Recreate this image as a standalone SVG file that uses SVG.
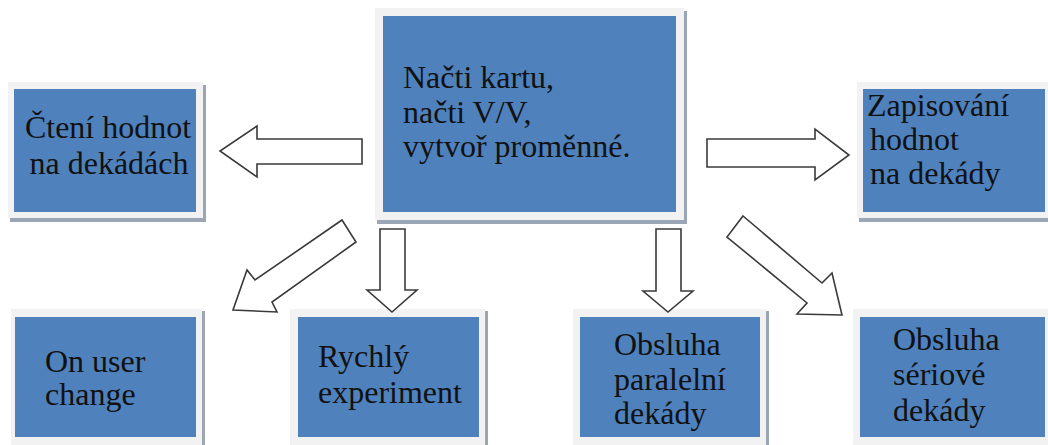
<svg xmlns="http://www.w3.org/2000/svg" width="1048" height="445" viewBox="0 0 1048 445">
  <defs>
    <style>
      .frame { fill: #f2f2f2; }
      .shadow { fill: #9aa5b5; }
      .box { fill: #4f81bd; }
      .lbl { font-family: 'Liberation Serif', 'Times New Roman', serif; font-size: 32px; fill: #111111; }
      .mid { text-anchor: middle; }
      .arrow { fill: #ffffff; stroke: #3a3a3a; stroke-width: 1.6; stroke-linejoin: miter; }
    </style>
  </defs>
  <rect width="1048" height="445" fill="#ffffff"/>

  <!-- centre node -->
  <g id="node-init">
    <rect class="shadow" x="377" y="11" width="310" height="213"/>
    <rect class="frame" x="375" y="8" width="309" height="212"/>
    <rect class="box" x="383" y="16" width="293" height="196"/>
    <text class="lbl" x="403" y="88">Načti kartu,</text>
    <text class="lbl" x="403" y="122.5">načti V/V,</text>
    <text class="lbl" x="403" y="157">vytvoř proměnné.</text>
  </g>

  <g id="node-read">
    <rect class="shadow" x="10" y="85" width="196" height="137"/>
    <rect class="frame" x="8" y="82" width="195" height="136"/>
    <rect class="box" x="14" y="89" width="182" height="123"/>
    <text class="lbl mid" x="108" y="138">Čtení hodnot</text>
    <text class="lbl mid" x="109" y="174">na dekádách</text>
  </g>

  <g id="node-write">
    <rect class="shadow" x="859" y="85" width="189" height="137"/>
    <rect class="frame" x="857" y="82" width="191" height="136"/>
    <rect class="box" x="863" y="89" width="182" height="123"/>
    <text class="lbl" x="867" y="116">Zapisování</text>
    <text class="lbl" x="870" y="150">hodnot</text>
    <text class="lbl" x="870" y="184">na dekády</text>
  </g>

  <g id="node-user">
    <rect class="shadow" x="13" y="311" width="192" height="134"/>
    <rect class="frame" x="11" y="309" width="191" height="136"/>
    <rect class="box" x="15" y="317" width="181" height="120"/>
    <text class="lbl" x="45" y="372">On user</text>
    <text class="lbl" x="45" y="405">change</text>
  </g>

  <g id="node-quick">
    <rect class="shadow" x="292" y="311" width="196" height="134"/>
    <rect class="frame" x="290" y="309" width="195" height="136"/>
    <rect class="box" x="298" y="317" width="181" height="120"/>
    <text class="lbl" x="318" y="367">Rychlý</text>
    <text class="lbl" x="318" y="403">experiment</text>
  </g>

  <g id="node-parallel">
    <rect class="shadow" x="575" y="311" width="194" height="134"/>
    <rect class="frame" x="573" y="309" width="193" height="136"/>
    <rect class="box" x="580" y="317" width="180" height="120"/>
    <text class="lbl" x="614" y="355">Obsluha</text>
    <text class="lbl" x="614" y="390">paralelní</text>
    <text class="lbl" x="614" y="424">dekády</text>
  </g>

  <g id="node-serial">
    <rect class="shadow" x="855" y="311" width="193" height="134"/>
    <rect class="frame" x="853" y="309" width="195" height="136"/>
    <rect class="box" x="860" y="317" width="185" height="120"/>
    <text class="lbl" x="893" y="350">Obsluha</text>
    <text class="lbl" x="893" y="385">sériové</text>
    <text class="lbl" x="893" y="421">dekády</text>
  </g>

  <!-- block arrows from the centre node -->
  <g id="connectors">
    <polygon class="arrow" points="362,139 257,139 257,126 220,151 257,177 257,164 362,164"/>
    <polygon class="arrow" points="707,139 815,139 815,129 849,155 815,180 815,167 707,167"/>
    <polygon class="arrow" points="342,220 356,242 272,302 277,312 233,310 247,270 255,280"/>
    <polygon class="arrow" points="380,229 405,229 405,290 417,290 392,312 367,290 380,290"/>
    <polygon class="arrow" points="656,229 681,229 681,291 693,291 668,312 643,291 656,291"/>
    <polygon class="arrow" points="743,216 822,283 832,273 842,315 797,314 807,303 727,237"/>
  </g>
</svg>
